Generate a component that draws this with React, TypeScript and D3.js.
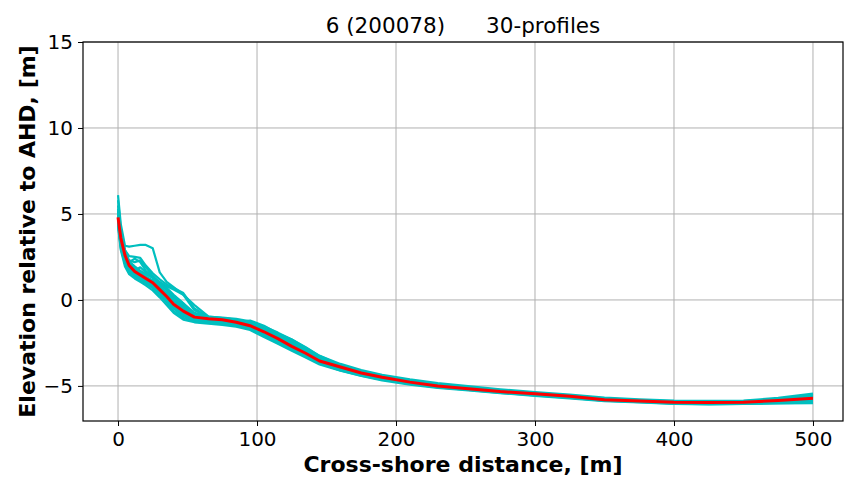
import { useRef, useEffect } from "react";
import * as d3 from "d3";

// cross-shore distances shared by all profiles (m)
const distances = [0, 2, 5, 8, 12, 16, 20, 25, 30, 35, 40, 47, 55, 65, 75, 85, 95, 105, 115, 125, 135, 145, 160, 175, 190, 210, 230, 250, 275, 300, 325, 350, 375, 400, 425, 450, 475, 500];

const profile1 = [6.1, 4.4, 3.15, 3.1, 3.15, 3.2, 3.2, 3.0, 1.6, 1.05, 0.75, 0.3, -0.6, -1.0, -1.1, -1.25, -1.45, -1.8, -2.15, -2.6, -3.05, -3.45, -3.9, -4.2, -4.45, -4.75, -4.95, -5.1, -5.3, -5.45, -5.6, -5.75, -5.85, -5.95, -5.95, -5.9, -5.75, -5.55];
const profile2 = [5.2, 3.9, 2.9, 2.55, 2.5, 2.45, 2.0, 1.55, 1.2, 0.9, 0.7, 0.4, -0.5, -1.0, -1.1, -1.25, -1.45, -1.75, -2.1, -2.5, -3.0, -3.45, -3.9, -4.25, -4.5, -4.75, -4.95, -5.1, -5.28, -5.45, -5.6, -5.75, -5.85, -5.92, -5.95, -5.93, -5.8, -5.6];
const profile3 = [4.9, 3.5, 2.6, 2.2, 2.4, 2.2, 1.7, 1.35, 1.0, 0.7, 0.3, -0.2, -0.9, -1.05, -1.1, -1.2, -1.35, -1.7, -2.05, -2.45, -2.95, -3.4, -3.85, -4.2, -4.45, -4.7, -4.9, -5.05, -5.25, -5.4, -5.58, -5.75, -5.85, -5.93, -5.98, -5.95, -5.82, -5.65];
const profile4 = [4.5, 3.2, 2.2, 1.7, 1.4, 1.2, 1.0, 0.75, 0.4, 0.0, -0.45, -0.9, -1.15, -1.25, -1.3, -1.4, -1.6, -1.95, -2.4, -2.8, -3.2, -3.6, -4.0, -4.3, -4.55, -4.82, -5.02, -5.15, -5.35, -5.5, -5.65, -5.82, -5.9, -6.0, -6.02, -6.0, -5.95, -5.9];
const profile5 = [4.7, 3.4, 2.4, 1.85, 1.5, 1.3, 1.15, 0.9, 0.5, 0.1, -0.3, -0.75, -1.05, -1.15, -1.2, -1.35, -1.55, -1.9, -2.3, -2.75, -3.15, -3.55, -3.95, -4.28, -4.52, -4.78, -4.98, -5.12, -5.32, -5.48, -5.62, -5.8, -5.88, -5.96, -6.0, -5.97, -5.88, -5.8];
const profile6 = [5.0, 3.7, 2.7, 2.1, 1.7, 1.5, 1.35, 1.15, 0.8, 0.4, 0.0, -0.45, -0.85, -1.05, -1.1, -1.2, -1.4, -1.7, -2.05, -2.5, -2.95, -3.4, -3.85, -4.2, -4.45, -4.72, -4.92, -5.08, -5.28, -5.42, -5.58, -5.75, -5.85, -5.9, -5.92, -5.9, -5.8, -5.55];
const profile7 = [5.5, 3.8, 2.8, 2.3, 2.2, 2.3, 1.9, 1.4, 1.0, 0.6, 0.2, -0.3, -0.95, -1.1, -1.2, -1.3, -1.5, -1.85, -2.2, -2.65, -3.05, -3.5, -3.92, -4.24, -4.5, -4.76, -4.96, -5.12, -5.3, -5.46, -5.62, -5.78, -5.88, -5.95, -5.96, -5.94, -5.84, -5.7];
const profile8 = [4.4, 3.0, 2.1, 1.6, 1.35, 1.15, 0.95, 0.7, 0.35, -0.05, -0.5, -0.95, -1.2, -1.3, -1.35, -1.45, -1.65, -2.0, -2.45, -2.85, -3.25, -3.65, -4.05, -4.35, -4.6, -4.85, -5.05, -5.18, -5.38, -5.52, -5.68, -5.85, -5.92, -6.02, -6.05, -6.02, -5.98, -5.95];
const profile9 = [4.6, 3.3, 2.45, 1.9, 1.55, 1.35, 1.15, 0.85, 0.45, 0.05, -0.35, -0.8, -1.1, -1.2, -1.25, -1.3, -1.2, -1.5, -1.95, -2.3, -2.75, -3.25, -3.8, -4.15, -4.42, -4.7, -4.92, -5.08, -5.28, -5.42, -5.58, -5.78, -5.88, -5.95, -5.98, -5.95, -5.9, -5.75];
const profile10 = [5.8, 4.1, 2.9, 2.2, 1.8, 1.55, 1.35, 1.1, 0.7, 0.3, -0.1, -0.55, -0.9, -1.0, -1.05, -1.15, -1.35, -1.65, -2.0, -2.4, -2.9, -3.35, -3.8, -4.15, -4.42, -4.7, -4.9, -5.05, -5.25, -5.4, -5.55, -5.72, -5.82, -5.9, -5.9, -5.88, -5.75, -5.5];
const profile11 = [4.6, 3.3, 2.3, 1.75, 1.45, 1.25, 1.05, 0.8, 0.45, 0.05, -0.4, -0.85, -1.15, -1.25, -1.25, -1.35, -1.6, -2.0, -2.45, -2.85, -3.25, -3.65, -4.05, -4.35, -4.58, -4.85, -5.05, -5.2, -5.38, -5.52, -5.68, -5.83, -5.92, -6.0, -6.02, -6.0, -5.95, -5.85];
const profile12 = [5.1, 3.6, 2.5, 2.0, 1.7, 1.9, 1.6, 1.3, 0.95, 0.55, 0.1, -0.4, -0.9, -1.08, -1.12, -1.25, -1.45, -1.78, -2.1, -2.55, -3.0, -3.42, -3.88, -4.22, -4.48, -4.74, -4.94, -5.1, -5.3, -5.46, -5.6, -5.76, -5.86, -5.93, -5.95, -5.92, -5.82, -5.62];
const profile13 = [4.3, 2.9, 1.95, 1.5, 1.25, 1.05, 0.85, 0.55, 0.15, -0.3, -0.75, -1.15, -1.3, -1.38, -1.45, -1.55, -1.75, -2.15, -2.55, -2.95, -3.35, -3.75, -4.12, -4.42, -4.68, -4.92, -5.12, -5.25, -5.42, -5.58, -5.72, -5.88, -5.96, -6.05, -6.08, -6.05, -6.02, -6.0];
const profile14 = [5.3, 3.8, 2.75, 2.25, 1.95, 1.7, 1.5, 1.3, 0.95, 0.6, 0.25, -0.2, -0.75, -0.98, -1.02, -1.1, -1.25, -1.55, -1.9, -2.3, -2.78, -3.25, -3.72, -4.08, -4.36, -4.62, -4.84, -5.0, -5.2, -5.36, -5.5, -5.68, -5.78, -5.86, -5.87, -5.85, -5.7, -5.45];
const profile15 = [4.9, 3.6, 2.6, 2.1, 1.8, 1.6, 1.5, 1.3, 1.05, 0.8, 0.6, 0.3, -0.3, -0.95, -1.05, -1.2, -1.4, -1.7, -2.0, -2.35, -2.85, -3.35, -3.82, -4.18, -4.45, -4.72, -4.93, -5.08, -5.27, -5.43, -5.58, -5.74, -5.84, -5.92, -5.94, -5.92, -5.8, -5.6];
const profile16 = [4.5, 3.1, 2.15, 1.65, 1.38, 1.18, 1.0, 0.72, 0.3, -0.15, -0.65, -1.05, -1.25, -1.32, -1.4, -1.5, -1.7, -2.08, -2.5, -2.9, -3.3, -3.7, -4.1, -4.4, -4.64, -4.88, -5.08, -5.22, -5.4, -5.55, -5.7, -5.86, -5.94, -6.03, -6.06, -6.04, -6.0, -5.98];

// mean profile (red)
const meanProfile = [4.8, 3.6, 2.6, 2.0, 1.65, 1.45, 1.25, 1.0, 0.6, 0.2, -0.25, -0.65, -1.0, -1.1, -1.15, -1.3, -1.5, -1.85, -2.25, -2.7, -3.1, -3.55, -3.9, -4.25, -4.5, -4.78, -5.0, -5.15, -5.33, -5.45, -5.6, -5.8, -5.88, -5.95, -5.97, -5.95, -5.85, -5.72];

const profiles = [profile1, profile2, profile3, profile4, profile5, profile6, profile7, profile8, profile9, profile10, profile11, profile12, profile13, profile14, profile15, profile16];

const xTicks = [0, 100, 200, 300, 400, 500];
const yTicks = [-5, 0, 5, 10, 15];

const chartTitle = "6 (200078)      30-profiles";
const xLabel = "Cross-shore distance, [m]";
const yLabel = "Elevation relative to AHD, [m]";

const App = () => {
  const gRef = useRef<SVGGElement>(null);
  const width = 844;
  const height = 479;
  const margin = { top: 42, right: 1, bottom: 58, left: 83 };
  const innerW = width - margin.left - margin.right;
  const innerH = height - margin.top - margin.bottom;

  const x = d3.scaleLinear().domain([-25.2, 521.6]).range([0, innerW]);
  const y = d3.scaleLinear().domain([-7.04, 15]).range([innerH, 0]);

  useEffect(() => {
    const g = d3.select(gRef.current);
    g.selectAll("*").remove();
    const font = "DejaVu Sans, sans-serif";

    // grid
    g.selectAll(".vgrid").data(xTicks).enter().append("line")
      .attr("x1", d => x(d)).attr("x2", d => x(d))
      .attr("y1", 0).attr("y2", innerH)
      .attr("stroke", "#b0b0b0").attr("stroke-width", 1);
    g.selectAll(".hgrid").data(yTicks).enter().append("line")
      .attr("x1", 0).attr("x2", innerW)
      .attr("y1", d => y(d)).attr("y2", d => y(d))
      .attr("stroke", "#b0b0b0").attr("stroke-width", 1);

    const line = d3.line<number>()
      .x((_, i) => x(distances[i]))
      .y(d => y(d));

    const plot = g.append("g");
    profiles.forEach(p => {
      plot.append("path")
        .attr("d", line(p))
        .attr("fill", "none")
        .attr("stroke", "#00bfbf")
        .attr("stroke-width", 2.2)
        .attr("stroke-linejoin", "round");
    });
    plot.append("path")
      .attr("d", line(meanProfile))
      .attr("fill", "none")
      .attr("stroke", "#ff0000")
      .attr("stroke-width", 3)
      .attr("stroke-linejoin", "round");

    // axes
    const xAxis = g.append("g")
      .attr("transform", `translate(0,${innerH})`)
      .call(d3.axisBottom(x).tickValues(xTicks).tickSize(5).tickPadding(6).tickSizeOuter(0));
    const yAxis = g.append("g")
      .call(d3.axisLeft(y).tickValues(yTicks).tickSize(5).tickPadding(5).tickSizeOuter(0));
    [xAxis, yAxis].forEach(a => {
      a.select(".domain").remove();
      a.selectAll("text").attr("font-family", font).attr("font-size", 20).attr("fill", "#000");
      a.selectAll("line").attr("stroke", "#000").attr("stroke-width", 1);
    });

    // frame
    g.append("rect")
      .attr("x", 0).attr("y", 0).attr("width", innerW).attr("height", innerH)
      .attr("fill", "none").attr("stroke", "#000").attr("stroke-width", 1.2);

    g.append("text")
      .attr("x", innerW / 2).attr("y", -9)
      .attr("text-anchor", "middle")
      .attr("font-family", font).attr("font-size", 21.5)
      .style("white-space", "pre")
      .text(chartTitle);

    g.append("text")
      .attr("x", innerW / 2).attr("y", innerH + 51)
      .attr("text-anchor", "middle")
      .attr("font-family", font).attr("font-size", 22).attr("font-weight", "bold")
      .text(xLabel);

    g.append("text")
      .attr("transform", `translate(${-48},${innerH / 2}) rotate(-90)`)
      .attr("text-anchor", "middle")
      .attr("font-family", font).attr("font-size", 22).attr("font-weight", "bold")
      .text(yLabel);
  }, []);

  return (
    <svg width={width} height={height} style={{ position: "absolute", left: 0, top: 0, background: "#fff" }}>
      <g ref={gRef} transform={`translate(${margin.left},${margin.top})`} />
    </svg>
  );
};

export default App;
